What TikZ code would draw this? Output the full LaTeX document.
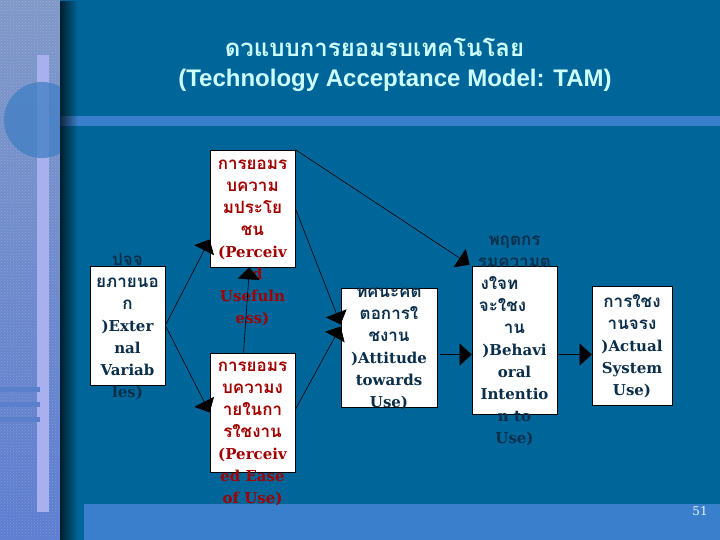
\documentclass[tikz,border=0pt]{standalone}
\usepackage{fontspec}
\setmainfont{DejaVu Serif}
\newfontfamily\thaifont[Script=Thai]{Loma}
\newfontfamily\titlefont{Liberation Sans}
\usetikzlibrary{arrows.meta,patterns,fadings}

\definecolor{slidebg}{HTML}{006699}
\definecolor{bandblue}{HTML}{3A7FCC}
\definecolor{titlecyan}{HTML}{CCFFFF}
\definecolor{boxink}{HTML}{0B2F4A}
\definecolor{boxred}{HTML}{A00000}
\definecolor{stripTop}{HTML}{7F98C8}
\definecolor{stripMid}{HTML}{8A8CDC}
\definecolor{stripBot}{HTML}{5C7CD0}
\definecolor{stripBar}{HTML}{A8B0EE}
\definecolor{stripCircle}{HTML}{3F7FC4}
\definecolor{stripDash}{HTML}{5A80CC}

% one line of Thai text inside a box
\newcommand{\thl}[1]{{\thaifont\bfseries\fontsize{17}{22}\selectfont #1}}

\begin{document}
\begin{tikzpicture}[x=1pt,y=-1pt,
    tambox/.style={draw=black, fill=white, line width=0.7pt, inner sep=0pt},
    tamtext/.style={anchor=base, align=center, inner sep=0pt, text=boxink,
      font=\bfseries\fontsize{15}{22}\selectfont},
    redtext/.style={tamtext, text=boxred},
    slidetitle/.style={anchor=base, inner sep=0pt, text=titlecyan},
    tamarrow/.style={-{Triangle[length=12pt,width=22pt]}, line width=0.6pt, black}]
  \useasboundingbox (0,0) rectangle (720,540);
  % slide background
  \fill[slidebg] (0,0) rectangle (720,540);
  \shade[top color=stripTop, middle color=stripMid, bottom color=stripBot] (0,0) rectangle (60,540);
  \fill[pattern=crosshatch dots, pattern color=white, opacity=0.2] (0,0) rectangle (60,540);
  \fill[stripBar] (37,55) rectangle (49,512);
  \begin{scope}
    \clip (0,0) rectangle (60,540);
    \fill[stripCircle, opacity=0.75] (42,120) circle (38);
  \end{scope}
  \foreach \y in {387,402,417} {
    \fill[stripDash] (0,\y) rectangle (40,\y+5);
  }
  \fill[bandblue] (60,116) rectangle (720,126);
  \fill[bandblue] (84,504) rectangle (720,540);
  \fill[black, path fading=east, opacity=0.7] (60,0) rectangle (78,540);

  % title
  \node[slidetitle, font=\thaifont\bfseries\fontsize{24}{26}\selectfont] (title1) at (374.5,57) {ดวแบบการยอมรบเทคโนโลย};
  \node[slidetitle, font=\titlefont\bfseries\fontsize{24}{26}\selectfont] (title2) at (395,87) {(Technology Acceptance Model: TAM)};

  % boxes
  \node[tambox, minimum width=75pt, minimum height=119pt] (ext) at (127.5,325.5) {};
  \node[tambox, minimum width=85pt, minimum height=117pt] (pu) at (252.5,208.5) {};
  \node[tambox, minimum width=85pt, minimum height=119pt] (peou) at (252.5,412.5) {};
  \node[tambox, minimum width=96pt, minimum height=119pt] (att) at (389,347.5) {};
  \node[tambox, minimum width=85pt, minimum height=148pt] (bi) at (514.5,340) {};
  \node[tambox, minimum width=80pt, minimum height=119pt] (act) at (632,345.5) {};

  % box texts (they run over the box edges), placed by their last line
  \node[tamtext] (exttext) at ([yshift=-12pt]ext.south)
    {\thl{ปจจ}\\ \thl{ยภายนอ}\\ \thl{ก}\\ )Exter\\ nal\\ Variab\\ les)};
  \node[redtext] (putext) at ([yshift=-56pt]pu.south)
    {\thl{การยอมร}\\ \thl{บความ}\\ \thl{มประโย}\\ \thl{ชน}\\ (Perceiv\\ ed\\ Usefuln\\ ess)};
  \node[redtext] (peoutext) at ([yshift=-31pt]peou.south)
    {\thl{การยอมร}\\ \thl{บความง}\\ \thl{ายในกา}\\ \thl{รใชงาน}\\ (Perceiv\\ ed Ease\\ of Use)};
  \node[tamtext] (atttext) at (att.south)
    {\thl{ทศนะคต}\\ \thl{ตอการใ}\\ \thl{ชงาน}\\ )Attitude\\ towards\\ Use)};
  \node[tamtext] (bitext) at ([yshift=-29pt]bi.south)
    {\thl{พฤตกร}\\ \thl{รมความต}\\ \thl{งใจท}\makebox[30pt]{}\\ \thl{จะใชง}\makebox[24pt]{}\\ \thl{าน}\\
     )Behavi\\ oral\\ Intentio\\ n to\\ Use)};
  \node[tamtext] (acttext) at ([yshift=10pt]act.south)
    {\thl{การใชง}\\ \thl{านจรง}\\ )Actual\\ System\\ Use)};

  % connectors
  \draw[tamarrow] (ext.east) -- ([yshift=-31pt]pu.west);
  \draw[tamarrow] (ext.east) -- (peou.west);
  \draw[tamarrow] ([xshift=-9pt]peou.north) -- ([xshift=-3pt]pu.south);
  \draw[tamarrow] (pu.east) -- ([yshift=23pt]att.west);
  \draw[tamarrow] ([yshift=3pt]peou.east) -- ([yshift=21pt]att.west);
  \draw[tamarrow] (pu.north east) -- ([shift={(-2pt,1pt)}]bi.north west);
  \draw[tamarrow] ([shift={(3pt,-7pt)}]att.east) -- ([yshift=-7pt]att.east -| bi.west);
  \draw[tamarrow] ([yshift=-9pt]act.west -| bi.east) -- ([yshift=-9pt]act.west);

  % page number
  \node[anchor=base, inner sep=0pt, text=white!90!cyan, font=\fontsize{12}{12}\selectfont] (pagenum) at (700,515) {51};
\end{tikzpicture}
\end{document}
